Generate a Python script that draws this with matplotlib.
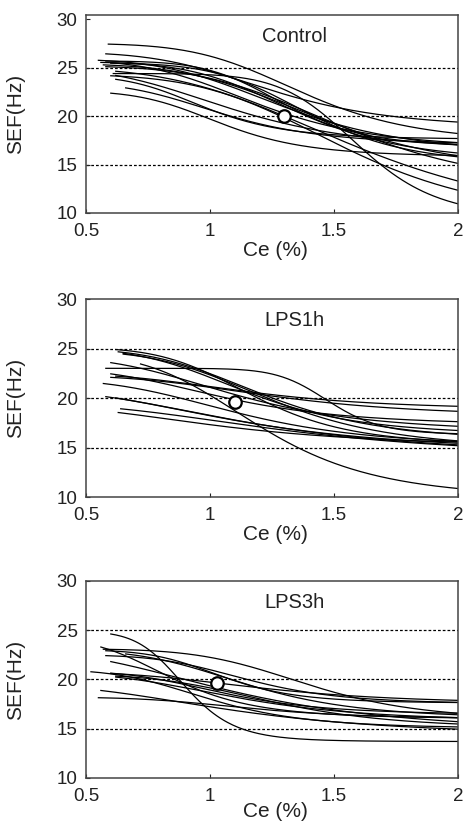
"""
Plot sigmoid Emax fits of SEF against effect-site concentration for three groups.
"""

import matplotlib

matplotlib.use("Agg")
import matplotlib.pyplot as plt
import numpy as np

plt.rcParams["font.family"] = ["Liberation Sans", "DejaVu Sans"]

GROUPS = ["Control", "LPS1h", "LPS3h"]

# Fitted Emax parameters per animal: start Ce, E0, Emin, Ce50, gamma
CONTROL_START = [0.59, 0.58, 0.55, 0.56, 0.57, 0.60, 0.58, 0.62, 0.61, 0.60, 0.66, 0.60, 0.62, 0.60, 0.62, 0.58]
CONTROL_E0 = [27.5, 26.6, 25.9, 25.6, 25.4, 25.8, 25.2, 25.0, 24.4, 24.3, 23.5, 22.6, 24.2, 25.5, 25.0, 25.7]
CONTROL_EMIN = [17.2, 18.7, 16.0, 15.3, 14.0, 16.6, 12.3, 16.3, 9.5, 9.0, 17.0, 15.8, 17.6, 15.0, 8.5, 16.8]
CONTROL_CE50 = [1.38, 1.25, 1.30, 1.35, 1.45, 1.20, 1.55, 1.10, 1.60, 1.55, 1.05, 1.05, 0.98, 1.40, 1.60, 1.30]
CONTROL_GAMMA = [6, 5, 5, 6, 5, 5, 5, 4, 10, 5, 5, 6, 6, 7, 4, 8]

LPS1H_START = [0.62, 0.63, 0.65, 0.60, 0.58, 0.62, 0.57, 0.72, 0.58, 0.63, 0.62, 0.60, 0.65, 0.60, 0.64]
LPS1H_E0 = [25.1, 25.0, 25.0, 24.2, 23.0, 22.5, 21.9, 24.5, 20.9, 19.3, 21.0, 23.0, 24.8, 22.3, 19.5]
LPS1H_EMIN = [15.2, 15.6, 16.2, 16.5, 16.3, 18.8, 15.0, 9.8, 14.2, 15.0, 14.5, 17.2, 14.8, 18.1, 14.0]
LPS1H_CE50 = [1.18, 1.22, 1.15, 1.10, 1.48, 1.15, 1.12, 1.20, 1.15, 1.05, 1.10, 1.05, 1.25, 1.25, 1.30]
LPS1H_GAMMA = [6, 5, 5, 4, 14, 4, 4, 5, 3, 3, 3, 4, 5, 4, 3]

LPS3H_START = [0.60, 0.56, 0.57, 0.58, 0.58, 0.52, 0.60, 0.60, 0.62, 0.56, 0.55, 0.60, 0.62, 0.66]
LPS3H_E0 = [24.9, 24.2, 23.1, 23.0, 22.5, 21.0, 20.9, 20.8, 20.7, 19.5, 18.2, 23.0, 20.5, 23.0]
LPS3H_EMIN = [13.7, 16.0, 15.8, 17.6, 17.5, 15.0, 16.4, 17.5, 15.7, 14.2, 16.0, 14.5, 15.0, 16.0]
LPS3H_CE50 = [0.90, 0.85, 1.40, 1.05, 1.15, 1.00, 1.05, 1.20, 1.10, 1.10, 1.15, 1.10, 1.25, 1.15]
LPS3H_GAMMA = [9, 5, 6, 7, 6, 5, 5, 4, 4, 3, 5, 3, 5, 5]

# Population Ce50 point (Ce, SEF)
MEDIAN_CE = [1.30, 1.10, 1.03]
MEDIAN_SEF = [20.0, 19.6, 19.6]

Y_LIMITS = [(10.4, 30.45), (10.0, 30.0), (10.0, 29.85)]
AXES_RECTS = [
    (0.1857, 0.7406, 0.8035, 0.2412),
    (0.1857, 0.3946, 0.8035, 0.2412),
    (0.1857, 0.0524, 0.8035, 0.2400),
]
XLABEL_Y = [-0.143, -0.14, -0.122]


def emax_curve(start, e0, emin, ce50, gamma):
    """Sigmoid Emax model evaluated from the start concentration to 2 %."""
    ce = np.linspace(start, 2.0, 200)
    frac = ce**gamma / (ce50**gamma + ce**gamma)
    return ce, e0 - (e0 - emin) * frac


def draw_panel(ax, title, params, point, ylim, xlabel_y):
    """Draw one group's curves, the Ce50 marker and the axis dressing."""
    for dash_y in (15, 20, 25):
        ax.axhline(dash_y, color="black", lw=0.9, ls=(0, (2.2, 1.6)), zorder=1)

    for start, e0, emin, ce50, gamma in zip(*params):
        ce, sef = emax_curve(start, e0, emin, ce50, gamma)
        ax.plot(ce, sef, color="black", lw=0.9, zorder=2)

    ax.plot(
        point[0], point[1], "o", ms=9, mfc="white", mec="black", mew=1.6, zorder=3
    )

    ax.set_xlim(0.5, 2.0)
    ax.set_ylim(*ylim)
    ax.set_xticks([0.5, 1, 1.5, 2])
    ax.set_xticklabels(["0.5", "1", "1.5", "2"])
    ax.set_yticks([10, 15, 20, 25, 30])
    ax.tick_params(direction="in", length=3, width=0.8, labelsize=13.5,
                   colors="#222222")
    ax.tick_params(axis="x", pad=7)
    ax.tick_params(axis="y", pad=6)
    for spine in ax.spines.values():
        spine.set_color("#444444")
        spine.set_linewidth(1.1)

    ax.text(0.56, 0.89, title, transform=ax.transAxes, ha="center", va="center",
            fontsize=14.5, color="#222222")
    ax.set_xlabel("Ce (%)", fontsize=15, color="#222222")
    ax.set_ylabel("SEF(Hz)", fontsize=15, color="#222222")
    ax.xaxis.set_label_coords(0.51, xlabel_y)
    ax.yaxis.set_label_coords(-0.165, 0.5)


fig = plt.figure(figsize=(4.63, 8.21), dpi=100)

all_params = [
    (CONTROL_START, CONTROL_E0, CONTROL_EMIN, CONTROL_CE50, CONTROL_GAMMA),
    (LPS1H_START, LPS1H_E0, LPS1H_EMIN, LPS1H_CE50, LPS1H_GAMMA),
    (LPS3H_START, LPS3H_E0, LPS3H_EMIN, LPS3H_CE50, LPS3H_GAMMA),
]

for i, title in enumerate(GROUPS):
    ax = fig.add_axes(AXES_RECTS[i])
    draw_panel(ax, title, all_params[i], (MEDIAN_CE[i], MEDIAN_SEF[i]),
               Y_LIMITS[i], XLABEL_Y[i])

fig.savefig("out.png", dpi=100)
